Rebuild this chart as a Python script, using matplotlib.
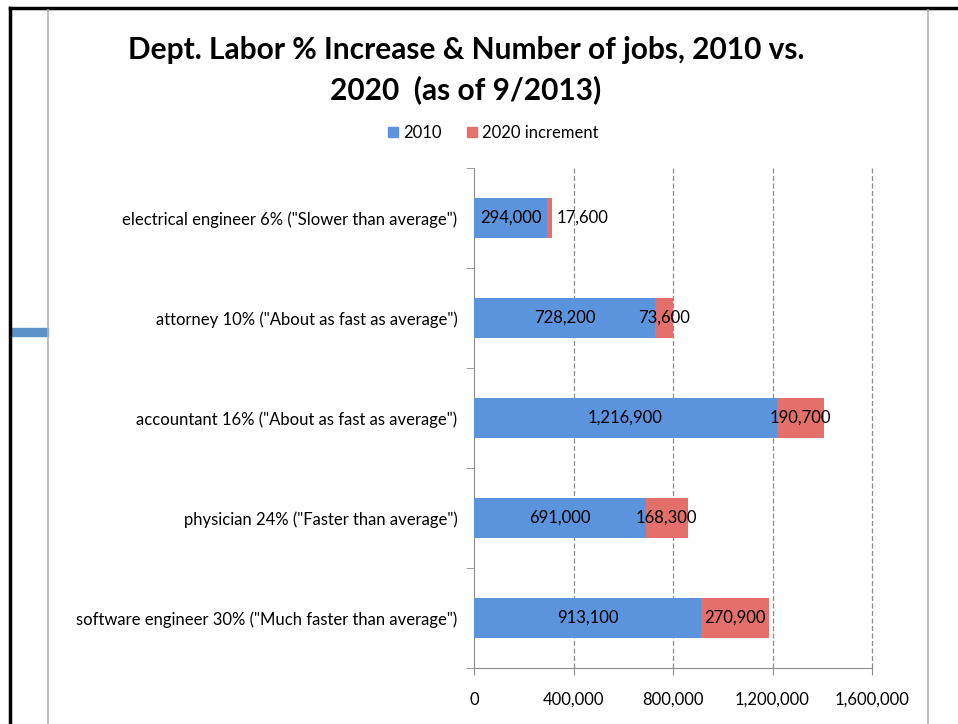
import matplotlib
matplotlib.use('Agg')
from matplotlib import pyplot as plt
from matplotlib.lines import Line2D
from matplotlib.patches import Rectangle, Patch
import numpy as np

categories = ['software engineer 30% ("Much faster than average")',
              'physician 24% ("Faster than average")',
              'accountant 16% ("About as fast as average")',
              'attorney 10% ("About as fast as average")',
              'electrical engineer 6% ("Slower than average")']
jobs_2010 = [913100, 691000, 1216900, 728200, 294000]
incr_2020 = [270900, 168300, 190700, 73600, 17600]
xticks = [0, 400000, 800000, 1200000, 1600000]

plt.rcParams['font.family'] = ['Lato', 'DejaVu Sans']
blue = '#5B93DC'
red = '#E3706A'
grid = '#8c8c8c'

fig = plt.figure(figsize=(9.58, 7.24), dpi=100)
ax = fig.add_axes([474/958, 1-668/724, (872-474)/958, 500/724])

y = np.arange(len(categories))
ax.barh(y, jobs_2010, height=0.4, color=blue, edgecolor='none', label='2010', zorder=3)
ax.barh(y, incr_2020, left=jobs_2010, height=0.4, color=red, edgecolor='none',
        label='2020 increment', zorder=3)

for i in range(len(categories)):
    ax.text(jobs_2010[i]/2, y[i], f'{jobs_2010[i]:,}', ha='center', va='center',
            fontsize=12, zorder=4)
    if incr_2020[i] < 60000:
        ax.text(jobs_2010[i] + incr_2020[i] + 20000, y[i], f'{incr_2020[i]:,}',
                ha='left', va='center', fontsize=12, zorder=4)
    else:
        ax.text(jobs_2010[i] + incr_2020[i]/2, y[i], f'{incr_2020[i]:,}',
                ha='center', va='center', fontsize=12, zorder=4)

ax.set_xlim(0, 1600000)
ax.set_ylim(-0.5, len(categories) - 0.5)
ax.set_xticks(xticks)
ax.set_xticklabels([f'{v:,}' for v in xticks], fontsize=12)
ax.set_yticks(y)
ax.set_yticklabels(categories, fontsize=12)
ax.set_yticks(np.arange(-0.5, len(categories)), minor=True)
ax.tick_params(axis='y', which='major', length=0, pad=12)
ax.tick_params(axis='y', which='minor', length=6, color=grid, direction='out')
ax.tick_params(axis='x', length=5, color=grid, direction='out', pad=12)
for x in xticks[1:]:
    ax.axvline(x, color=grid, ls=(0, (4, 2)), lw=0.9, zorder=1, clip_on=False)
for s in ['top', 'right']:
    ax.spines[s].set_visible(False)
ax.spines['left'].set_color(grid)
ax.spines['bottom'].set_color(grid)

fig.text(466/958, 1-50/724, 'Dept. Labor % Increase & Number of jobs, 2010 vs.',
         ha='center', va='center', fontsize=21.5, fontweight='bold')
fig.text(466/958, 1-90/724, '2020  (as of 9/2013)',
         ha='center', va='center', fontsize=21.5, fontweight='bold')

handles = [Patch(color=blue), Patch(color=red)]
fig.legend(handles, ['2010', '2020 increment'], loc='center', bbox_to_anchor=(493/958, 1-133/724),
           ncol=2, frameon=False, fontsize=12, handlelength=0.6, handleheight=0.6,
           handletextpad=0.3, columnspacing=1.5)

# page frame decorations
fig.add_artist(Line2D([10/958, 10/958], [0, 1-8/724], color='black', lw=2.5))
fig.add_artist(Line2D([10/958, 1], [1-8/724, 1-8/724], color='black', lw=2.5))
fig.add_artist(Line2D([48/958, 48/958], [0, 1-10/724], color='#b0b0b0', lw=1.2))
fig.add_artist(Line2D([928/958, 928/958], [0, 1-10/724], color='#b0b0b0', lw=1.2))
fig.add_artist(Rectangle((11/958, 1-336/724), 37/958, 8/724, color='#5B93C8',
                         transform=fig.transFigure))

fig.savefig('out.png', dpi=100)
